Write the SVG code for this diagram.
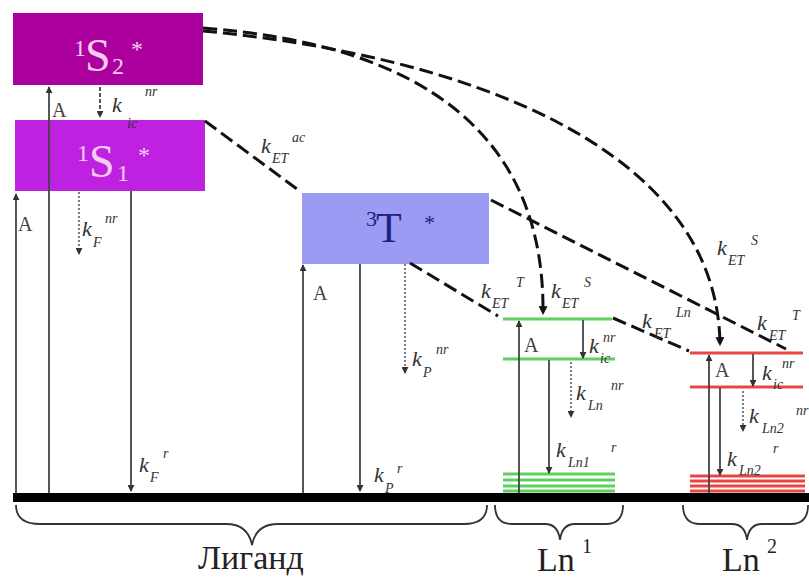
<svg xmlns="http://www.w3.org/2000/svg" width="809" height="580" viewBox="0 0 809 580">
<style>
text{font-family:"Liberation Serif","Times New Roman",serif}
.k{font-style:italic;font-size:22px;fill:#333}
.s{font-style:italic;font-size:14px;fill:#333}
.A{font-size:20px;fill:#444}
.big{font-size:46px;fill:#f6cdf0}
.sup{font-size:24px;fill:#f6cdf0}
.tb{font-size:42px;fill:#1c2280}
.tsup{font-size:22px;fill:#1c2280}
.ar{stroke:#444;stroke-width:1.8;fill:none}
.dot{stroke:#555;stroke-width:1.5;stroke-dasharray:2 2;fill:none}
.dsh{stroke:#111;stroke-width:3;stroke-dasharray:14 6;fill:none}
.g{stroke:#5fcf5f;stroke-width:3}
.r{stroke:#e84545;stroke-width:3}
.br{stroke:#333;stroke-width:1.8;fill:none}
.lbl{font-size:34px;fill:#222}
.lsup{font-size:20px;fill:#222}
</style>
<defs>
<marker id="ah" viewBox="0 0 8 8" refX="7" refY="4" markerWidth="7" markerHeight="7" markerUnits="userSpaceOnUse" orient="auto"><path d="M0,0 L8,4 L0,8 z" fill="#333"/></marker>
<marker id="ahb" viewBox="0 0 8 8" refX="7" refY="4" markerWidth="9" markerHeight="9" markerUnits="userSpaceOnUse" orient="auto"><path d="M0,0 L8,4 L0,8 z" fill="#111"/></marker>
</defs>
<rect width="809" height="580" fill="#fff"/>

<g id="ground"><rect x="13" y="493" width="796" height="9" fill="#000"/></g>

<g id="S2"><rect x="13" y="13" width="190" height="72" fill="#ac009e"/>
<text class="sup" x="74" y="56">1</text><text class="big" x="85" y="71">S</text><text class="sup" x="112" y="74">2</text><text class="sup" x="131" y="57">*</text></g>

<g id="S1"><rect x="15" y="120" width="190" height="71" fill="#be22e0"/>
<text class="sup" x="77" y="161">1</text><text class="big" x="89" y="177">S</text><text class="sup" x="117" y="181">1</text><text class="sup" x="138" y="163">*</text></g>

<g id="T"><rect x="302" y="193" width="187" height="71" fill="#9b9bf3"/>
<text class="tsup" x="366" y="226">3</text><text class="tb" x="376" y="242">T</text><text class="tsup" x="424" y="230">*</text></g>

<g id="Ln1levels">
<line class="g" x1="503" y1="319" x2="612" y2="319"/>
<line class="g" x1="503" y1="359" x2="615" y2="359"/>
<line class="g" x1="503" y1="474" x2="615" y2="474" stroke-width="2.5"/>
<line class="g" x1="503" y1="480" x2="615" y2="480" stroke-width="2.5"/>
<line class="g" x1="503" y1="486" x2="615" y2="486" stroke-width="2.5"/>
<line class="g" x1="503" y1="491" x2="615" y2="491" stroke-width="2.5"/>
</g>
<g id="Ln2levels">
<line class="r" x1="690" y1="353" x2="803" y2="353"/>
<line class="r" x1="690" y1="387" x2="803" y2="387"/>
<line class="r" x1="690" y1="476" x2="805" y2="476"/>
<line class="r" x1="690" y1="481" x2="805" y2="481"/>
<line class="r" x1="690" y1="486" x2="805" y2="486"/>
<line class="r" x1="690" y1="491" x2="805" y2="491"/>
</g>

<g id="connectors">
<line class="ar" x1="16" y1="493" x2="16" y2="194" marker-end="url(#ah)"/>
<line class="ar" x1="49" y1="493" x2="49" y2="87" marker-end="url(#ah)"/>
<line class="ar" x1="100" y1="87" x2="100" y2="117" stroke-dasharray="4 2" marker-end="url(#ah)"/>
<line class="dot" x1="79" y1="192" x2="79" y2="254" marker-end="url(#ah)"/>
<line class="ar" x1="131" y1="191" x2="131" y2="491" marker-end="url(#ah)"/>
<line class="ar" x1="303" y1="493" x2="303" y2="265" marker-end="url(#ah)"/>
<line class="ar" x1="360" y1="264" x2="360" y2="491" marker-end="url(#ah)"/>
<line class="dot" x1="405" y1="264" x2="405" y2="373" marker-end="url(#ah)"/>
<line class="ar" x1="519" y1="493" x2="519" y2="321" marker-end="url(#ah)"/>
<line class="ar" x1="583" y1="320" x2="583" y2="358" marker-end="url(#ah)"/>
<line class="ar" x1="549" y1="360" x2="549" y2="473" marker-end="url(#ah)"/>
<line class="dot" x1="571" y1="362" x2="571" y2="417" marker-end="url(#ah)"/>
<line class="ar" x1="709" y1="493" x2="709" y2="355" marker-end="url(#ah)"/>
<line class="ar" x1="753" y1="354" x2="753" y2="386" marker-end="url(#ah)"/>
<line class="ar" x1="720" y1="388" x2="720" y2="475" marker-end="url(#ah)"/>
<line class="dot" x1="743" y1="391" x2="743" y2="431" marker-end="url(#ah)"/>

<line class="dsh" x1="205" y1="121" x2="301" y2="192"/>
<line class="dsh" x1="491" y1="200" x2="786" y2="349"/>
<line class="dsh" x1="410" y1="263" x2="498" y2="316"/>
<line class="dsh" x1="613" y1="318" x2="689" y2="351"/>
<path class="dsh" d="M203,28 C430,45 545,140 543,314" marker-end="url(#ahb)"/>
<path class="dsh" d="M203,31 C460,55 718,145 720,345" marker-end="url(#ahb)"/>
</g>

<g id="labels">
<text class="A" x="18" y="231">A</text>
<text class="A" x="52" y="117">A</text>
<text class="A" x="313" y="300">A</text>
<text class="A" x="524" y="352">A</text>
<text class="A" x="715" y="377">A</text>

<text class="k" x="112" y="112">k</text><text class="s" x="127" y="128">ic</text><text class="s" x="145" y="96">nr</text>
<text class="k" x="82" y="236">k</text><text class="s" x="93" y="247">F</text><text class="s" x="105" y="223">nr</text>
<text class="k" x="139" y="472">k</text><text class="s" x="150" y="482">F</text><text class="s" x="163" y="458">r</text>
<text class="k" x="261" y="153">k</text><text class="s" x="272" y="163">ET</text><text class="s" x="292" y="142">ac</text>
<text class="k" x="412" y="366">k</text><text class="s" x="423" y="377">P</text><text class="s" x="436" y="354">nr</text>
<text class="k" x="374" y="482">k</text><text class="s" x="385" y="493">P</text><text class="s" x="397" y="473">r</text>
<text class="k" x="481" y="298">k</text><text class="s" x="492" y="308">ET</text><text class="s" x="516" y="287">T</text>
<text class="k" x="551" y="298">k</text><text class="s" x="562" y="308">ET</text><text class="s" x="584" y="287">S</text>
<text class="k" x="642" y="328">k</text><text class="s" x="654" y="338">ET</text><text class="s" x="676" y="317">Ln</text>
<text class="k" x="757" y="330">k</text><text class="s" x="769" y="340">ET</text><text class="s" x="792" y="320">T</text>
<text class="k" x="717" y="255">k</text><text class="s" x="728" y="265">ET</text><text class="s" x="751" y="245">S</text>
<text class="k" x="589" y="353">k</text><text class="s" x="600" y="363">ic</text><text class="s" x="603" y="342">nr</text>
<text class="k" x="576" y="400">k</text><text class="s" x="588" y="410">Ln</text><text class="s" x="611" y="390">nr</text>
<text class="k" x="556" y="457">k</text><text class="s" x="568" y="467">Ln1</text><text class="s" x="611" y="452">r</text>
<text class="k" x="762" y="380">k</text><text class="s" x="773" y="389">ic</text><text class="s" x="782" y="368">nr</text>
<text class="k" x="749" y="423">k</text><text class="s" x="762" y="433">Ln2</text><text class="s" x="796" y="415">nr</text>
<text class="k" x="727" y="466">k</text><text class="s" x="739" y="475">Ln2</text><text class="s" x="773" y="453">r</text>
</g>

<g id="braces">
<path class="br" d="M16,505 Q16,524 40,524 L226,524 Q248,524 252,545 Q256,524 278,524 L464,524 Q487,524 487,505"/>
<path class="br" d="M495,505 Q495,524 512,524 L545,524 Q558,524 560,540 Q562,524 575,524 L606,524 Q623,524 623,505"/>
<path class="br" d="M683,505 Q683,524 700,524 L732,524 Q745,524 747,540 Q749,524 762,524 L791,524 Q808,524 808,505"/>
<text class="lbl" x="198" y="569">Лиганд</text>
<text class="lbl" x="537" y="571">Ln</text><text class="lsup" x="582" y="553">1</text>
<text class="lbl" x="722" y="571">Ln</text><text class="lsup" x="767" y="553">2</text>
</g>
</svg>
